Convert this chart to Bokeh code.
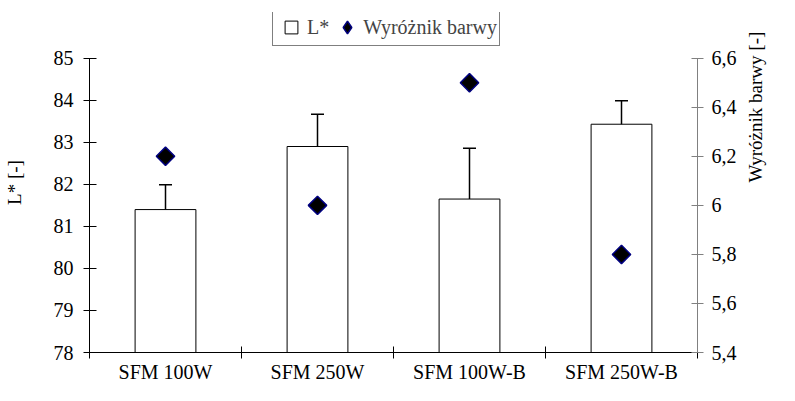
import math
from bokeh.plotting import figure
from bokeh.models import (Range1d, LinearAxis, FixedTicker, ColumnDataSource,
                          Whisker, TeeHead, Legend, LegendItem, CustomJSTickFormatter)
from bokeh.embed import file_html
from bokeh.resources import INLINE

# ---- data ----
categories = ["SFM 100W", "SFM 250W", "SFM 100W-B", "SFM 250W-B"]
l_star = [81.40, 82.90, 81.65, 83.43]
l_star_err = [0.59, 0.77, 1.21, 0.56]
wyroznik = [6.2, 6.0, 6.5, 5.8]
l_ticks = [78, 79, 80, 81, 82, 83, 84, 85]
w_ticks = [5.4, 5.6, 5.8, 6.0, 6.2, 6.4, 6.6]
label_l = "L*"
label_w = "Wyróżnik barwy"
axis_l = "L* [-]"
axis_w = "Wyróżnik barwy [-]"

FONT = "Liberation Serif"
FS = "20px"

# layout (pixels): the frame reaches up to the legend; the axes span only AXIS_PX of it
W, H = 779, 385
BORDER_L, BORDER_R, BORDER_T, BORDER_B = 84, 78, 12, 31
FRAME_PX = H - BORDER_T - BORDER_B
AXIS_PX = 296
stretch = FRAME_PX / AXIS_PX

n = len(categories)
centers = [i + 0.5 for i in range(n)]      # category slot centres
edges = list(range(n + 1))                 # category slot boundaries

src = ColumnDataSource(dict(
    x=centers,
    cat=categories,
    l=l_star,
    upper=[v + e for v, e in zip(l_star, l_star_err)],
    lower=[v - e for v, e in zip(l_star, l_star_err)],
    w=wyroznik,
))

l_lo, l_hi = l_ticks[0], l_ticks[-1]
w_lo, w_hi = w_ticks[0], w_ticks[-1]

p = figure(x_range=Range1d(0, n), y_range=Range1d(l_lo, l_lo + (l_hi - l_lo) * stretch),
           width=W, height=H, output_backend="svg", toolbar_location=None,
           x_axis_location=None, y_axis_location=None,
           min_border_left=BORDER_L, min_border_right=BORDER_R,
           min_border_top=BORDER_T, min_border_bottom=BORDER_B)
p.outline_line_color = None
p.grid.visible = False
p.background_fill_color = "white"
p.border_fill_color = "white"
p.extra_y_ranges = {"w": Range1d(w_lo, w_lo + (w_hi - w_lo) * stretch)}


def style_axis(ax):
    ax.major_label_text_font = FONT
    ax.major_label_text_font_size = FS
    ax.major_label_text_color = "black"
    ax.axis_label_text_font = FONT
    ax.axis_label_text_font_size = "19px"
    ax.axis_label_text_font_style = "normal"
    ax.axis_label_text_color = "black"
    ax.minor_tick_line_color = None


ly = LinearAxis(ticker=FixedTicker(ticks=l_ticks), axis_label=axis_l, bounds=(l_lo, l_hi))
style_axis(ly)
ly.axis_line_color = "black"
ly.major_tick_line_color = "black"
ly.major_tick_in = 7
ly.major_tick_out = 6
ly.major_label_standoff = 10
ly.axis_label_standoff = 26
p.add_layout(ly, "left")

ry = LinearAxis(y_range_name="w", ticker=FixedTicker(ticks=w_ticks), axis_label=axis_w,
                bounds=(w_lo, w_hi),
                formatter=CustomJSTickFormatter(
                    code="return (Math.round(tick*10)/10).toString().replace('.', ',');"))
style_axis(ry)
ry.axis_line_color = "#808080"
ry.major_tick_line_color = "#808080"
ry.major_tick_in = 6
ry.major_tick_out = 6
ry.major_label_standoff = 8
ry.axis_label_standoff = 16
if "axis_label_orientation" in ry.properties():
    ry.axis_label_orientation = math.pi / 2
p.add_layout(ry, "right")

# category labels at slot centres (major), slot boundaries as tick marks (minor)
cx = LinearAxis(ticker=FixedTicker(ticks=centers, minor_ticks=edges),
                major_label_overrides={c: name for c, name in zip(centers, categories)})
style_axis(cx)
cx.axis_line_color = "black"
cx.major_tick_line_color = None
cx.major_tick_in = 0
cx.major_tick_out = 0
cx.minor_tick_line_color = "black"
cx.minor_tick_in = 6
cx.minor_tick_out = 6
cx.major_label_standoff = 2
p.add_layout(cx, "below")

p.vbar(x="x", top="l", bottom=l_lo - 1, width=0.4, source=src,
       fill_color="white", line_color="black", line_width=1)

wh = Whisker(base="x", upper="upper", lower="lower", source=src,
             line_color="black", line_width=1.5,
             upper_head=TeeHead(size=13, line_color="black", line_width=1.5),
             lower_head=TeeHead(size=13, line_color="black", line_width=1.5))
p.add_layout(wh)

p.scatter(x="x", y="w", y_range_name="w", source=src, marker="square", angle=math.pi / 4,
          size=13, fill_color="black", line_color="#000080", line_width=1.5)

leg_l = p.scatter(x="x", y="l", source=src, marker="square", fill_color="white",
                  line_color="black", line_width=1, visible=False)
leg_w = p.scatter(x="x", y="w", y_range_name="w", source=src, marker="diamond",
                  fill_color="black", line_color="#000080", line_width=1.5, visible=False)

GLYPH, PAD = 32, 2
legend = Legend(items=[LegendItem(label=label_l, renderers=[leg_l]),
                       LegendItem(label=label_w, renderers=[leg_w])],
                location=(183, FRAME_PX - GLYPH - 2 * PAD), orientation="horizontal",
                glyph_width=GLYPH, glyph_height=GLYPH, padding=PAD, spacing=2, label_standoff=0,
                margin=0, border_line_color="black", border_line_width=1,
                background_fill_color="white", label_text_font=FONT, label_text_font_size=FS)
p.add_layout(legend, "center")

open("out.html", "w").write(file_html(p, INLINE))
